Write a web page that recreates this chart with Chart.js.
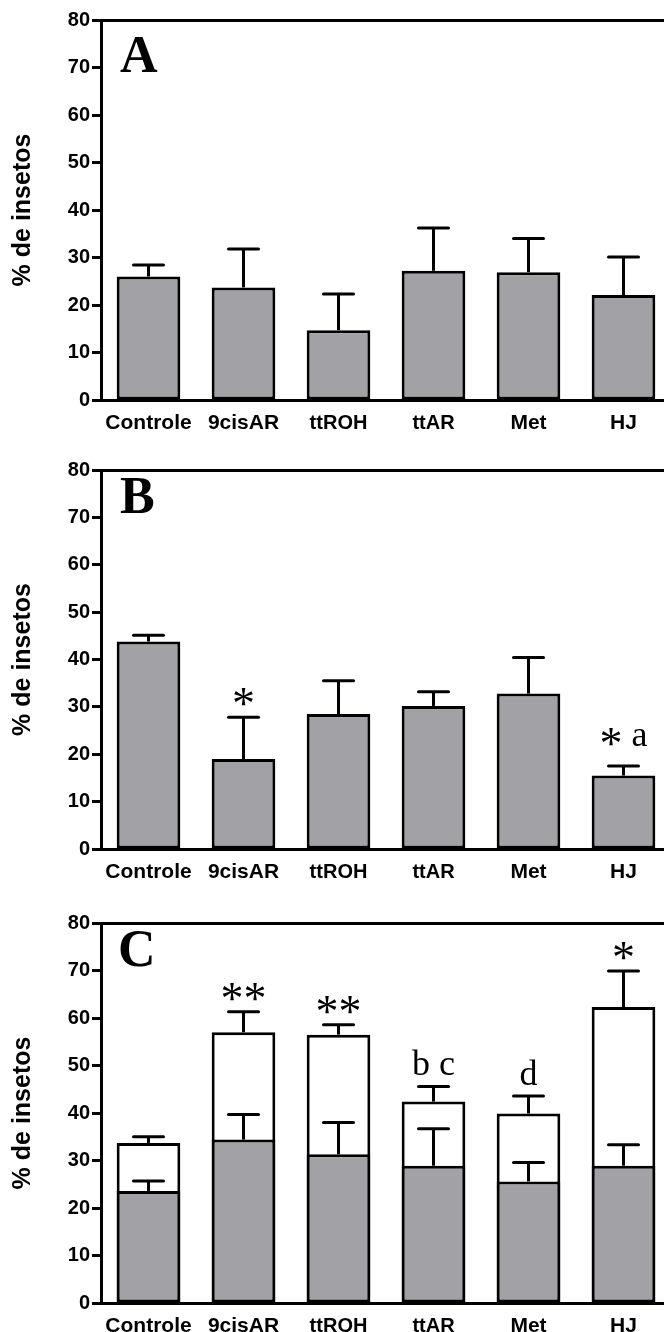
<!DOCTYPE html>
<html><head><meta charset="utf-8">
<script src="https://cdn.jsdelivr.net/npm/chart.js@4/dist/chart.umd.min.js"></script>
<style>
html,body{margin:0;padding:0;background:#fff;overflow:hidden;width:664px;height:1332px;}
#wrap{position:relative;width:664px;height:1332px;overflow:hidden;background:#fff;}
canvas{position:absolute;left:0;}
</style></head><body>
<div id="wrap">
<canvas id="cA" width="672" height="440" style="top:0px"></canvas>
<canvas id="cB" width="672" height="440" style="top:440px"></canvas>
<canvas id="cC" width="672" height="452" style="top:880px"></canvas>
</div>
<script>
// ---- data ----
const categories = ['Controle', '9cisAR', 'ttROH', 'ttAR', 'Met', 'HJ'];
const yTickValues = [0, 10, 20, 30, 40, 50, 60, 70, 80];
const yTitle = '% de insetos';

// Panel A
const meanA = [26.0, 23.7, 14.7, 27.2, 26.9, 22.1];
const semA  = [2.4, 8.1, 7.6, 9.0, 7.1, 8.0];
// Panel B
const meanB = [43.8, 19.0, 28.5, 30.2, 32.8, 15.5];
const semB  = [1.3, 8.8, 7.0, 3.0, 7.6, 2.0];
const notesB = ['', '*', '', '', '', '* a'];
// Panel C (grey = lower part, white = total)
const meanCgrey  = [23.6, 34.4, 31.3, 28.9, 25.6, 28.9];
const semCgrey   = [2.1, 5.3, 6.7, 7.8, 4.0, 4.4];
const meanCtotal = [33.7, 57.0, 56.5, 42.4, 39.9, 62.3];
const semCtotal  = [1.3, 4.3, 2.1, 3.2, 3.7, 7.6];
const notesC = ['', '**', '**', 'b c', 'd', '*'];

// ---- styles ----
const GREY = '#a2a1a6';
const SANS = '"Liberation Sans", Arial, Helvetica, sans-serif';
const SERIF = '"Liberation Serif", "Times New Roman", serif';

const extras = {
  id: 'extras',
  afterDatasetsDraw(chart, args, opts) {
    const ctx = chart.ctx, ys = chart.scales.y;
    chart.data.datasets.forEach((ds, di) => {
      if (!ds.errors) return;
      const meta = chart.getDatasetMeta(di);
      meta.data.forEach((el, i) => {
        const top = ys.getPixelForValue(ds.data[i] + ds.errors[i]);
        ctx.save();
        ctx.strokeStyle = '#000';
        ctx.lineWidth = 3;
        ctx.lineCap = 'butt';
        ctx.beginPath(); ctx.moveTo(el.x, el.y); ctx.lineTo(el.x, top); ctx.stroke();
        ctx.lineCap = 'round';
        ctx.beginPath(); ctx.moveTo(el.x - 15, top); ctx.lineTo(el.x + 15, top); ctx.stroke();
        ctx.restore();
      });
    });
    // annotations
    if (opts.notes) {
      const ds = chart.data.datasets[opts.noteDataset];
      const meta = chart.getDatasetMeta(opts.noteDataset);
      opts.notes.forEach((txt, i) => {
        if (!txt) return;
        const el = meta.data[i];
        const capY = ys.getPixelForValue(ds.data[i] + ds.errors[i]);
        const gap = (opts.noteGaps && opts.noteGaps[i]) || 11;
        const bottom = capY - gap;
        const tokens = txt.split(' ');
        ctx.save();
        ctx.fillStyle = '#000';
        ctx.textBaseline = 'alphabetic';
        ctx.textAlign = 'left';
        const fonts = tokens.map(t => t.indexOf('*') >= 0 ? '46px ' + SERIF : '36px ' + SERIF);
        const widths = tokens.map((t, k) => { ctx.font = fonts[k]; return ctx.measureText(t).width; });
        const space = 9;
        const total = widths.reduce((a, b) => a + b, 0) + space * (tokens.length - 1);
        let x = el.x - total / 2;
        tokens.forEach((t, k) => {
          ctx.font = fonts[k];
          const m = ctx.measureText(t);
          ctx.fillText(t, x, bottom - m.actualBoundingBoxDescent);
          x += widths[k] + space;
        });
        ctx.restore();
      });
    }
  },
  afterDraw(chart, args, opts) {
    const ctx = chart.ctx, ys = chart.scales.y, area = chart.chartArea;
    // minor ticks
    ctx.save();
    ctx.strokeStyle = '#000';
    ctx.lineWidth = 3;
    ys.ticks.forEach(t => {
      if (t.value % 10 === 0) return;
      const py = Math.round(ys.getPixelForValue(t.value)) + 0.5;
      ctx.beginPath(); ctx.moveTo(area.left - 5, py); ctx.lineTo(area.left, py); ctx.stroke();
    });
    ctx.restore();
    // panel letter
    ctx.save();
    ctx.font = 'bold 52px ' + SERIF;
    ctx.fillStyle = '#000';
    ctx.textAlign = 'left';
    ctx.textBaseline = 'alphabetic';
    const m = ctx.measureText(opts.letter);
    ctx.fillText(opts.letter, area.left + 19 + m.actualBoundingBoxLeft, area.top + opts.letterTop + m.actualBoundingBoxAscent);
    ctx.restore();
  }
};

function makeChart(id, datasets, padTop, xHeight, letter, letterTop, notes, noteDataset, noteGaps) {
  return new Chart(document.getElementById(id), {
    type: 'bar',
    data: { labels: categories, datasets: datasets },
    options: {
      responsive: false,
      animation: false,
      devicePixelRatio: 1,
      layout: { padding: { top: padTop, left: 0, right: 1, bottom: 0 } },
      plugins: {
        legend: { display: false },
        tooltip: { enabled: false },
        extras: { letter: letter, letterTop: letterTop, notes: notes, noteDataset: noteDataset, noteGaps: noteGaps }
      },
      scales: {
        x: {
          offset: true,
          grid: { display: true, drawOnChartArea: false, drawTicks: false },
          border: { display: true, color: '#000', width: 3 },
          ticks: {
            color: '#000', padding: 11, maxRotation: 0, autoSkip: false,
            font: (c) => {
              const lab = categories[c.index] || '';
              const small = lab.startsWith('tt');
              return { family: SANS, size: small ? 20 : 21, weight: 'bold' };
            }
          },
          afterFit: (s) => { s.height = xHeight; }
        },
        xTop: {
          type: 'category', labels: categories, position: 'top', offset: true,
          grid: { display: true, drawOnChartArea: false, drawTicks: false },
          border: { display: true, color: '#000', width: 3 },
          ticks: { display: false },
          afterFit: (s) => { s.height = 0; }
        },
        y: {
          min: 0, max: 80,
          afterBuildTicks: (s) => {
            const arr = [];
            for (let v = 0; v <= 80; v += 5) arr.push({ value: v });
            s.ticks = arr;
          },
          ticks: {
            color: '#000', padding: 2,
            font: { family: SANS, size: 20, weight: 'bold' },
            callback: (v) => (yTickValues.indexOf(v) >= 0 ? String(v) : '')
          },
          grid: {
            drawOnChartArea: false, drawTicks: true, tickLength: 9, tickWidth: 3,
            tickColor: (c) => (c.tick && c.tick.value % 10 === 0 ? '#000' : 'rgba(0,0,0,0)')
          },
          border: { display: true, color: '#000', width: 3 },
          title: {
            display: true, text: yTitle, color: '#000',
            font: { family: SANS, size: 25, weight: 'bold' },
            padding: { top: 8, bottom: 0 }
          },
          afterFit: (s) => { s.width = 101; }
        }
      }
    },
    plugins: [extras]
  });
}

const barBase = { backgroundColor: GREY, borderColor: '#000', borderWidth: 3, borderSkipped: false,
                  barPercentage: 0.67, categoryPercentage: 1.0, grouped: false };

makeChart('cA', [Object.assign({}, barBase, { data: meanA, errors: semA })], 20, 40, 'A', 17, null, 0, null);
makeChart('cB', [Object.assign({}, barBase, { data: meanB, errors: semB })], 30, 31, 'B', 8, notesB, 0, [0, 11, 0, 0, 0, 20]);
makeChart('cC', [
  Object.assign({}, barBase, { data: meanCgrey, errors: semCgrey }),
  Object.assign({}, barBase, { data: meanCtotal, errors: semCtotal, backgroundColor: '#ffffff' })
], 43, 29, 'C', 8, notesC, 1, null);
</script>
</body></html>
